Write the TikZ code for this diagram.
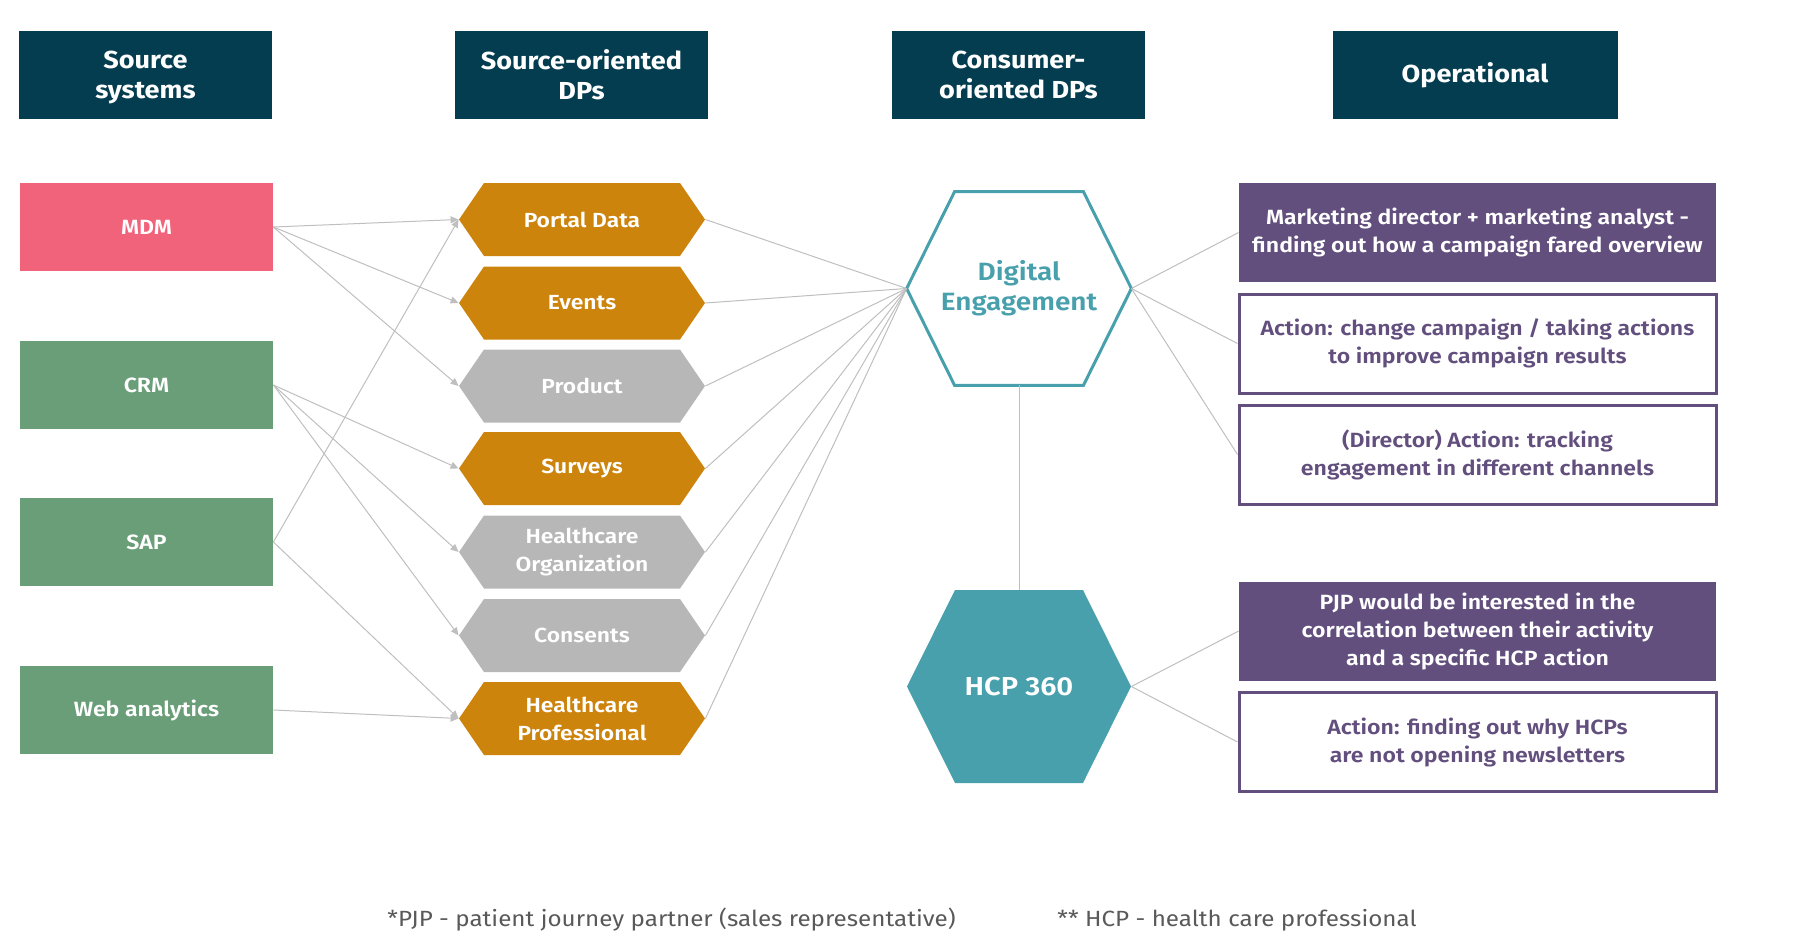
\documentclass[tikz,border=0pt]{standalone}
\usepackage{fontspec}
\setmainfont{Fira Sans}[FakeStretch=1.1,BoldFeatures={FakeStretch=1.1}]
\newfontfamily\semib{Fira Sans SemiBold}[FakeStretch=1.12]
\usetikzlibrary{arrows.meta}
\definecolor{hdrblue}{RGB}{4,61,79}
\definecolor{mdmpink}{RGB}{240,99,122}
\definecolor{srcgreen}{RGB}{106,158,120}
\definecolor{dporange}{RGB}{204,132,12}
\definecolor{dpgrey}{RGB}{183,183,183}
\definecolor{deteal}{RGB}{72,160,172}
\definecolor{oppurple}{RGB}{98,79,126}
\definecolor{linegrey}{RGB}{191,191,191}
\definecolor{notegrey}{RGB}{89,89,89}
\tikzset{
	hdr/.style={fill=hdrblue,text=white,minimum width=126.5pt,minimum height=44pt,inner sep=0pt,align=center,font=\bfseries\fontsize{12.3}{15}\selectfont},
	srcbox/.style={fill=#1,text=white,minimum width=126.5pt,minimum height=44pt,inner sep=0pt,font=\semib\fontsize{10.3}{13}\selectfont},
	hexa/.style={fill=white,text=white,minimum width=123pt,minimum height=36.5pt,inner sep=0pt,align=center,font=\semib\fontsize{10.2}{14}\selectfont,
		path picture={\fill[#1] (path picture bounding box.west) -- ([xshift=12.5pt]path picture bounding box.north west) -- ([xshift=-12.5pt]path picture bounding box.north east) -- (path picture bounding box.east) -- ([xshift=-12.5pt]path picture bounding box.south east) -- ([xshift=12.5pt]path picture bounding box.south west) -- cycle;}},
	bighex/.style={minimum width=112pt,minimum height=96.5pt,inner sep=0pt,align=center,font=\semib\fontsize{13}{15}\selectfont},
	opfill/.style={fill=oppurple,text=white,minimum width=238.5pt,minimum height=49.5pt,inner sep=0pt,align=center,font=\semib\fontsize{10.3}{14}\selectfont},
	opline/.style={draw=oppurple,line width=1.5pt,fill=white,text=oppurple,minimum width=238.5pt,minimum height=49.5pt,inner sep=0pt,align=center,font=\semib\fontsize{10.3}{14}\selectfont},
	note/.style={anchor=west,inner sep=0pt,text=notegrey,font=\fontsize{11}{13}\selectfont},
	feed/.style={draw=linegrey,line width=0.5pt,-{Triangle[length=4pt,width=3.5pt]}},
	link/.style={draw=linegrey,line width=0.5pt}
}
\begin{document}
\begin{tikzpicture}[x=0.5pt,y=-0.5pt]
	\useasboundingbox (0,0) rectangle (1800,942);

	\node [hdr] (hsrc) at (145.5,75) {Source\\\raisebox{0pt}[\height][0pt]{systems}};
	\node [hdr] (hso) at (581.5,75) {Source-oriented\\DPs};
	\node [hdr] (hco) at (1018.5,75) {Consumer-\\oriented DPs};
	\node [hdr,minimum width=142.5pt] (hop) at (1475,75) {Operational};

	\node [srcbox=mdmpink] (mdm) at (146.5,227) {MDM};
	\node [srcbox=srcgreen] (crm) at (146.5,385) {CRM};
	\node [srcbox=srcgreen] (sap) at (146.5,542) {SAP};
	\node [srcbox=srcgreen] (web) at (146.5,710) {Web analytics};

	\node [hexa=dporange] (pd) at (582,219.5) {Portal Data};
	\node [hexa=dporange] (ev) at (582,303) {Events};
	\node [hexa=dpgrey] (pr) at (582,386) {Product};
	\node [hexa=dporange] (sv) at (582,468.5) {Surveys};
	\node [hexa=dpgrey] (ho) at (582,552) {Healthcare\\Organization};
	\node [hexa=dpgrey] (cs) at (582,635.5) {Consents};
	\node [hexa=dporange] (hp) at (582,718.5) {Healthcare\\Professional};

	\node [bighex,text=deteal,font=\semib\fontsize{12.5}{15}\selectfont] (de) at (1019,288.5) {Digital\\Engagement};
	\draw [deteal,line width=1.5pt] (de.west) -- ([xshift=24pt]de.north west) -- ([xshift=-24pt]de.north east) -- (de.east) -- ([xshift=-24pt]de.south east) -- ([xshift=24pt]de.south west) -- cycle;
	\node [bighex,text=white,fill=white,path picture={\fill[deteal] (path picture bounding box.west) -- ([xshift=24pt]path picture bounding box.north west) -- ([xshift=-24pt]path picture bounding box.north east) -- (path picture bounding box.east) -- ([xshift=-24pt]path picture bounding box.south east) -- ([xshift=24pt]path picture bounding box.south west) -- cycle;}] (hcp) at (1019,686.5) {HCP 360};

	\node [opfill] (mk) at (1477.5,232.5) {Marketing director + marketing analyst -\\finding out how a campaign fared overview};
	\node [opline] (act) at (1477.5,343.5) {Action: change campaign / taking actions\\to improve campaign results};
	\node [opline] (dir) at (1477.5,454.5) {(Director) Action: tracking\\engagement in different channels};
	\node [opfill] (pjp) at (1477.5,631) {PJP would be interested in the\\correlation between their activity\\and a specific HCP action};
	\node [opline] (hcpact) at (1477.5,742) {Action: finding out why HCPs\\are not opening newsletters};

	\foreach \a/\b in {mdm/pd,mdm/ev,mdm/pr,crm/sv,crm/ho,crm/cs,sap/pd,sap/hp,web/hp}
		\draw [feed] (\a.east) -- (\b.west);
	\foreach \b in {pd,ev,pr,sv,ho,cs,hp}
		\draw [link] (\b.east) -- (de.west);
	\foreach \b in {mk,act,dir}
		\draw [link] (de.east) -- (\b.west);
	\foreach \b in {pjp,hcpact}
		\draw [link] (hcp.east) -- (\b.west);
	\draw [link] (de.south) -- (hcp.north);

	\node [note] (fn1) at (387,920) {*PJP - patient journey partner (sales representative)};
	\node [note] (fn2) at (1057,920) {** HCP - health care professional};
\end{tikzpicture}
\end{document}
